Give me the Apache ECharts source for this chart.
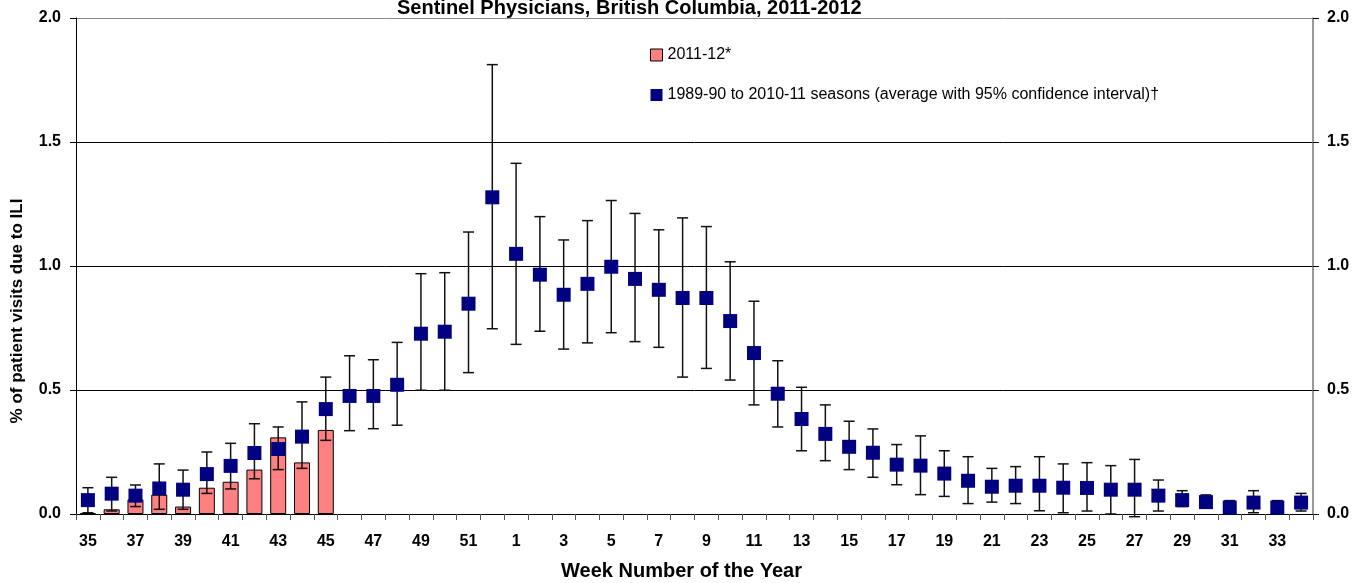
<!DOCTYPE html>
<html>
<head>
<meta charset="utf-8">
<script src="https://cdn.jsdelivr.net/npm/echarts@6/dist/echarts.min.js"></script>
<style>html,body{margin:0;padding:0;background:#fff;}#c{width:1365px;height:583px;}</style>
</head>
<body>
<div id="c"></div>
<script>
var weeks = ['35','36','37','38','39','40','41','42','43','44','45','46','47','48','49','50','51','52',
  '1','2','3','4','5','6','7','8','9','10','11','12','13','14','15','16','17','18','19','20',
  '21','22','23','24','25','26','27','28','29','30','31','32','33','34'];
var season2011 = [0.004,0.019,0.059,0.078,0.030,0.106,0.130,0.179,0.309,0.208,0.339];
var avgValues = [0.056,0.082,0.074,0.103,0.098,0.161,0.194,0.246,0.262,0.312,0.423,0.476,0.476,0.521,0.727,0.735,0.848,1.277,
  1.049,0.965,0.884,0.928,0.997,0.948,0.904,0.871,0.871,0.778,0.649,0.485,0.383,0.323,0.271,0.247,0.199,0.195,0.163,0.134,
  0.110,0.114,0.114,0.106,0.105,0.098,0.098,0.074,0.056,0.048,0.026,0.046,0.026,0.046];
var lowValues = [0.005,0.012,0.030,0.019,0.019,0.083,0.101,0.142,0.179,0.184,0.297,0.336,0.344,0.358,0.499,0.499,0.570,0.747,
  0.684,0.737,0.665,0.690,0.731,0.695,0.672,0.552,0.587,0.540,0.440,0.351,0.255,0.215,0.179,0.148,0.118,0.078,0.071,0.042,
  0.048,0.042,0.013,0.005,0.012,0.000,-0.011,0.012,0.030,0.035,0.010,0.005,0.010,0.012];
var highValues = [0.106,0.148,0.117,0.202,0.177,0.250,0.285,0.364,0.351,0.452,0.552,0.638,0.622,0.692,0.969,0.973,1.137,1.812,
  1.414,1.199,1.105,1.183,1.264,1.212,1.146,1.194,1.159,1.017,0.858,0.618,0.511,0.440,0.374,0.343,0.280,0.315,0.255,0.231,
  0.184,0.191,0.231,0.202,0.207,0.195,0.220,0.137,0.094,0.077,0.054,0.094,0.054,0.083];
var yTicks = [0, 0.5, 1.0, 1.5, 2.0];

var barName = '2011-12*';
var avgName = '1989-90 to 2010-11 seasons (average with 95% confidence interval)\u2020';

var barData = weeks.map(function (w, i) { return i < season2011.length ? season2011[i] : '-'; });
var errData = weeks.map(function (w, i) { return [i, lowValues[i], highValues[i]]; });

var chart = echarts.init(document.getElementById('c'));
var font = 'Liberation Sans, Arial, sans-serif';
chart.setOption({
  animation: false,
  backgroundColor: '#fff',
  title: {
    text: 'Sentinel Physicians, British Columbia, 2011-2012',
    left: 397, top: -2, padding: 0,
    textStyle: { fontFamily: font, fontSize: 20, fontWeight: 'bold', color: '#000' }
  },
  legend: {
    orient: 'vertical', left: 650, top: 47, padding: 0,
    itemWidth: 12, itemHeight: 12, itemGap: 24,
    textStyle: { fontFamily: font, fontSize: 16, color: '#000' },
    data: [
      { name: barName, icon: 'rect', itemStyle: { color: '#FF8080', borderColor: '#000', borderWidth: 1 } },
      { name: avgName, icon: 'rect', itemStyle: { color: '#000080', borderWidth: 0 } }
    ]
  },
  grid: { left: 76, right: 52, top: 18, bottom: 69, outerBoundsMode: 'none', containLabel: false },
  xAxis: {
    type: 'category', data: weeks, boundaryGap: true,
    name: 'Week Number of the Year', nameLocation: 'middle', nameGap: 47,
    nameTextStyle: { fontFamily: font, fontSize: 20, fontWeight: 'bold', color: '#000', padding: [0, 26, 0, 0] },
    axisLine: { lineStyle: { color: '#000', width: 1 } },
    axisTick: { show: true, interval: 0, length: 6, lineStyle: { color: '#555' } },
    axisLabel: { interval: 1, margin: 20, fontFamily: font, fontSize: 16, fontWeight: 'bold', color: '#000' },
    splitLine: { show: false }
  },
  yAxis: [{
    type: 'value', min: 0, max: 2, interval: 0.5, position: 'left',
    name: '% of patient visits due to ILI', nameLocation: 'middle', nameGap: 50, nameRotate: 90,
    nameTextStyle: { fontFamily: font, fontSize: 17, fontWeight: 'bold', color: '#000', padding: [0, 90, 0, 0] },
    axisLine: { show: true, lineStyle: { color: '#000', width: 1 } },
    axisTick: { show: true, length: 6, lineStyle: { color: '#000' } },
    axisLabel: { margin: 15, fontFamily: font, fontSize: 16, fontWeight: 'bold', color: '#000',
      formatter: function (v) { return v.toFixed(1); } },
    splitLine: { show: true, lineStyle: { color: ['#000', '#000', '#000', '#000', '#888'], width: 1 } }
  }, {
    type: 'value', min: 0, max: 2, interval: 0.5, position: 'right',
    axisLine: { show: true, lineStyle: { color: '#777', width: 1.5 } },
    axisTick: { show: true, length: 6, lineStyle: { color: '#000' } },
    axisLabel: { margin: 14, fontFamily: font, fontSize: 16, fontWeight: 'bold', color: '#000',
      formatter: function (v) { return v.toFixed(1); } },
    splitLine: { show: false }
  }],
  series: [
    {
      name: barName, type: 'bar', data: barData, barWidth: 16, z: 2,
      itemStyle: { color: '#FF8080', borderColor: '#000', borderWidth: 1 }
    },
    {
      name: 'ci', type: 'custom', z: 3, data: errData,
      encode: { x: 0, y: [1, 2] },
      renderItem: function (params, api) {
        var x = api.value(0);
        var lo = api.coord([x, api.value(1)]);
        var hi = api.coord([x, api.value(2)]);
        var hw = 5.5;
        var st = { stroke: '#111', lineWidth: 1.5 };
        return {
          type: 'group',
          children: [
            { type: 'line', shape: { x1: lo[0], y1: lo[1], x2: hi[0], y2: hi[1] }, style: st },
            { type: 'line', shape: { x1: lo[0] - hw, y1: lo[1], x2: lo[0] + hw, y2: lo[1] }, style: st },
            { type: 'line', shape: { x1: hi[0] - hw, y1: hi[1], x2: hi[0] + hw, y2: hi[1] }, style: st }
          ]
        };
      }
    },
    {
      name: avgName, type: 'scatter', data: avgValues, symbol: 'rect', symbolSize: 14, z: 4,
      itemStyle: { color: '#000080', opacity: 1 }
    }
  ]
});
</script>
</body>
</html>
